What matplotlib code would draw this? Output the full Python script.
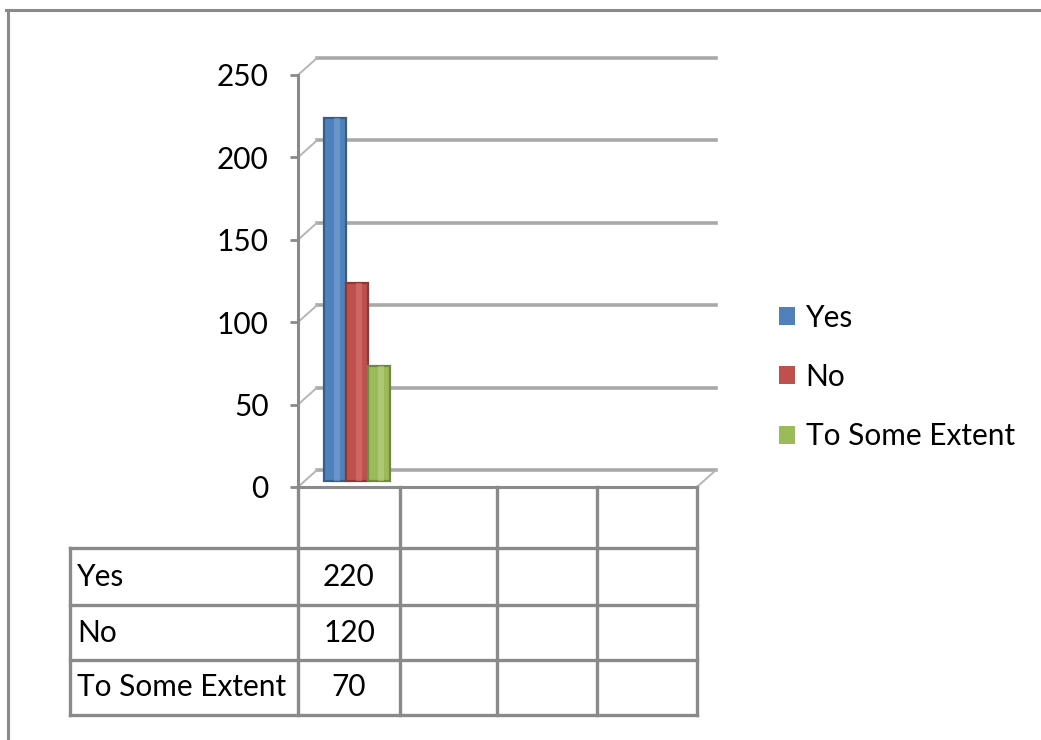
import numpy as np
import matplotlib
matplotlib.use("Agg")
import matplotlib.pyplot as plt
from matplotlib.lines import Line2D
from matplotlib.patches import Patch
from matplotlib.transforms import offset_copy

# ---- data ----
categories = ["", "", "", ""]
series_names = ["Yes", "No", "To Some Extent"]
yes_vals = [220, np.nan, np.nan, np.nan]
no_vals = [120, np.nan, np.nan, np.nan]
some_vals = [70, np.nan, np.nan, np.nan]
y_ticks = [0, 50, 100, 150, 200, 250]

colors = ["#4F81BD", "#C0504D", "#9BBB59"]
edges = ["#385D8A", "#8C3836", "#71893F"]
lights = ["#7FA6D8", "#DA7A77", "#BBD48A"]

W, H = 1041, 740
FONT = "Lato"
FS = 21.5
GRAY = "#8A8A8A"

plt.rcParams["font.family"] = [FONT, "DejaVu Sans"]
fig = plt.figure(figsize=(W / 100, H / 100), dpi=100)


def fx(x):
    return x / W


def fy(y):
    return 1 - y / H


# plot area (front plane)
left_px, right_px, top_px, bot_px = 298, 697, 75, 487
ax = fig.add_axes([fx(left_px), fy(bot_px), fx(right_px) - fx(left_px), fy(top_px) - fy(bot_px)])
n = len(categories)
ax.set_xlim(0, n)
ax.set_ylim(0, 250)
ax.patch.set_alpha(0)

# depth of the pseudo-3D wall (pixels)
DX, DY = 19, 17
back = offset_copy(ax.transData, fig=fig, x=DX, y=DY, units="dots")
mid = offset_copy(ax.transData, fig=fig, x=DX * 0.5, y=6, units="dots")
px_x = (right_px - left_px) / n
px_y = (bot_px - top_px) / 250
ddx, ddy = DX / px_x, DY / px_y

# back-wall gridlines and connectors
for v in y_ticks:
    ax.plot([0, n], [v, v], transform=back, color="#A9A9A9", lw=2.6, clip_on=False, zorder=1)
    ax.plot([0, ddx], [v, v + ddy], color="#B5B5B5", lw=1.4, clip_on=False, zorder=1)
# right edge of floor
ax.plot([n, n + ddx], [0, ddy], color="#B5B5B5", lw=1.4, clip_on=False, zorder=1)

# bars
bw = 0.22
offsets = [-bw, 0, bw]
for vals, off, c, e, lc in zip([yes_vals, no_vals, some_vals], offsets, colors, edges, lights):
    xs = np.arange(n) + 0.5 + off
    ax.bar(xs, vals, width=bw, color=c, edgecolor=e, linewidth=1.6,
           transform=mid, clip_on=False, zorder=3)
    ax.bar(xs + bw * 0.08, vals, width=bw * 0.3, color=lc, linewidth=0,
           alpha=0.55, transform=mid, clip_on=False, zorder=4)

# front axis
for s in ["top", "right"]:
    ax.spines[s].set_visible(False)
ax.spines["left"].set_color(GRAY)
ax.spines["left"].set_linewidth(2.2)
ax.spines["bottom"].set_color(GRAY)
ax.spines["bottom"].set_linewidth(2.2)
ax.set_yticks(y_ticks)
ax.set_yticklabels([str(v) for v in y_ticks], fontsize=FS)
ax.tick_params(axis="y", length=6, width=2, color=GRAY, pad=15)
ax.set_xticks([])

# data table beneath the plot
col_edges = [298, 400, 497, 597, 697]
row_edges = [548, 605, 660, 715]
label_left = 70
tl = dict(color=GRAY, lw=2.4, transform=fig.transFigure, solid_capstyle="projecting")
for xe in col_edges:
    fig.add_artist(Line2D([fx(xe)] * 2, [fy(bot_px), fy(row_edges[-1])], **tl))
for ye in row_edges:
    fig.add_artist(Line2D([fx(label_left), fx(col_edges[-1])], [fy(ye)] * 2, **tl))
fig.add_artist(Line2D([fx(label_left)] * 2, [fy(row_edges[0]), fy(row_edges[-1])], **tl))

for i, c in enumerate(categories):
    xc = (col_edges[i] + col_edges[i + 1]) / 2
    fig.text(fx(xc), fy((bot_px + row_edges[0]) / 2), c, ha="center", va="center", fontsize=FS)

for r, (name, vals) in enumerate(zip(series_names, [yes_vals, no_vals, some_vals])):
    yc = (row_edges[r] + row_edges[r + 1]) / 2
    fig.text(fx(label_left + 7), fy(yc), name, ha="left", va="center", fontsize=FS)
    for i, v in enumerate(vals):
        if np.isnan(v):
            continue
        xc = (col_edges[i] + col_edges[i + 1]) / 2
        fig.text(fx(xc), fy(yc), f"{v:g}", ha="center", va="center", fontsize=FS)

# legend
handles = [Patch(facecolor=c, edgecolor="none") for c in colors]
fig.legend(handles, series_names, loc="center left",
           bbox_to_anchor=(fx(752), fy(377)), frameon=False, fontsize=FS,
           handlelength=0.55, handleheight=0.55, handletextpad=0.35, labelspacing=1.05)

# outer frame
fig.add_artist(Line2D([fx(6), 1], [fy(10), fy(10)], color=GRAY, lw=2.2, transform=fig.transFigure))
fig.add_artist(Line2D([fx(8), fx(8)], [fy(10), 0], color=GRAY, lw=2.2, transform=fig.transFigure))

fig.savefig("out.png", dpi=100)
